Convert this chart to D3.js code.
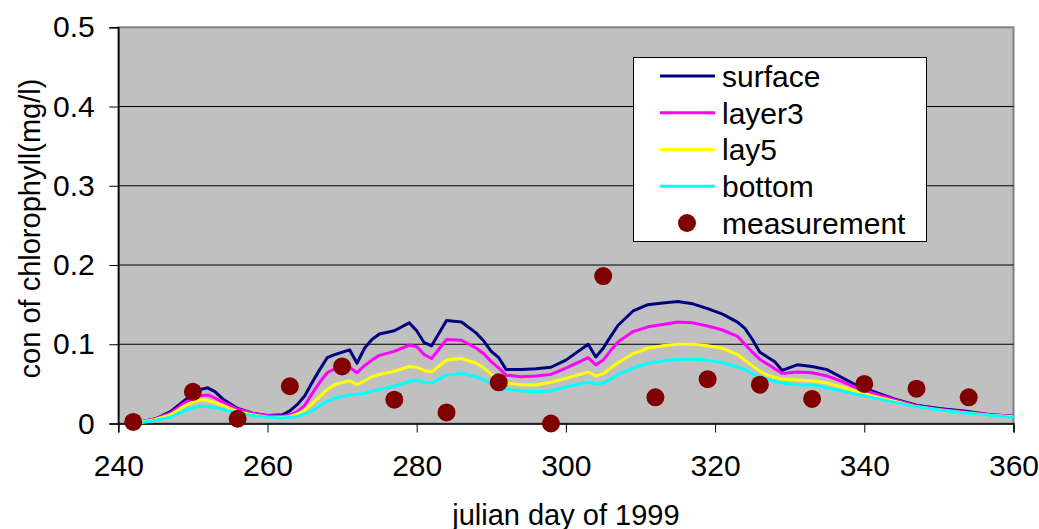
<!DOCTYPE html>
<html>
<head>
<meta charset="utf-8">
<script src="https://cdn.jsdelivr.net/npm/d3@7"></script>
<style>
  body { margin: 0; background: #fff; }
  text { font-family: "Liberation Sans", Arial, sans-serif; fill: #000; }
</style>
</head>
<body>
<script>
// model output, sampled at these julian days
var days = [243, 245, 247, 249, 251, 252, 253, 254, 256, 258, 260, 262, 263, 264, 265, 266, 267, 268, 269, 271,
            272, 273, 274, 275, 277, 279, 280, 281, 282, 284, 286, 288, 289, 290, 291, 292, 294, 296, 298, 300,
            303, 304, 305, 306, 307, 309, 311, 313, 315, 317, 319, 321, 323, 324, 325, 326, 327, 328, 329, 331,
            333, 335, 337, 339, 341, 344, 347, 350, 354, 357, 360];

var surface = [0.002, 0.006, 0.015, 0.030, 0.043, 0.045, 0.040, 0.031, 0.019, 0.013, 0.010, 0.011, 0.016, 0.024, 0.035, 0.052, 0.068, 0.083, 0.087, 0.093,
               0.076, 0.095, 0.106, 0.113, 0.117, 0.127, 0.117, 0.102, 0.098, 0.130, 0.128, 0.114, 0.104, 0.091, 0.083, 0.068, 0.068, 0.069, 0.071, 0.080,
               0.100, 0.084, 0.095, 0.110, 0.124, 0.142, 0.150, 0.152, 0.154, 0.151, 0.145, 0.138, 0.128, 0.120, 0.106, 0.090, 0.084, 0.078, 0.067, 0.074,
               0.072, 0.068, 0.058, 0.048, 0.041, 0.031, 0.023, 0.019, 0.015, 0.011, 0.009];

var layer3 = [0.002, 0.006, 0.013, 0.027, 0.035, 0.036, 0.032, 0.027, 0.018, 0.013, 0.010, 0.009, 0.011, 0.015, 0.023, 0.038, 0.052, 0.064, 0.069, 0.071,
              0.064, 0.073, 0.080, 0.086, 0.091, 0.099, 0.097, 0.087, 0.082, 0.106, 0.105, 0.095, 0.088, 0.078, 0.070, 0.061, 0.059, 0.060, 0.062, 0.070,
              0.083, 0.074, 0.080, 0.092, 0.103, 0.116, 0.122, 0.125, 0.128, 0.127, 0.123, 0.118, 0.110, 0.100, 0.090, 0.081, 0.075, 0.069, 0.063, 0.065,
              0.064, 0.060, 0.053, 0.045, 0.039, 0.030, 0.022, 0.018, 0.014, 0.011, 0.009];

var lay5 = [0.002, 0.005, 0.011, 0.023, 0.030, 0.029, 0.026, 0.023, 0.015, 0.011, 0.008, 0.008, 0.009, 0.012, 0.017, 0.025, 0.034, 0.043, 0.049, 0.054,
            0.049, 0.054, 0.059, 0.062, 0.066, 0.072, 0.071, 0.067, 0.065, 0.080, 0.082, 0.076, 0.070, 0.062, 0.055, 0.051, 0.049, 0.0485, 0.052, 0.057,
            0.065, 0.060, 0.063, 0.070, 0.077, 0.088, 0.095, 0.098, 0.100, 0.100, 0.098, 0.095, 0.087, 0.080, 0.073, 0.066, 0.061, 0.058, 0.056, 0.055,
            0.054, 0.051, 0.046, 0.040, 0.035, 0.028, 0.021, 0.017, 0.013, 0.010, 0.0085];

var bottom = [0.001, 0.004, 0.008, 0.017, 0.022, 0.021, 0.020, 0.018, 0.013, 0.010, 0.008, 0.007, 0.008, 0.009, 0.012, 0.016, 0.022, 0.028, 0.032, 0.036,
              0.037, 0.038, 0.041, 0.043, 0.047, 0.053, 0.055, 0.052, 0.051, 0.061, 0.063, 0.059, 0.055, 0.050, 0.046, 0.043, 0.041, 0.040, 0.041, 0.046,
              0.052, 0.050, 0.051, 0.056, 0.062, 0.070, 0.076, 0.079, 0.081, 0.081, 0.080, 0.077, 0.071, 0.068, 0.063, 0.059, 0.056, 0.053, 0.051, 0.049,
              0.0485, 0.045, 0.041, 0.037, 0.033, 0.027, 0.021, 0.017, 0.0125, 0.010, 0.008];

// field measurements
var measDays = [242, 250, 256, 263, 270, 277, 284, 291, 298, 305, 312, 319, 326, 333, 340, 347, 354];
var measVals = [0.002, 0.040, 0.006, 0.047, 0.072, 0.030, 0.014, 0.052, 0.000, 0.186, 0.033, 0.056, 0.049, 0.031, 0.050, 0.044, 0.033];

var seriesNames = ['surface', 'layer3', 'lay5', 'bottom'];
var seriesColors = ['#000080', '#ff00ff', '#ffff00', '#00ffff'];
var xTicks = [240, 260, 280, 300, 320, 340, 360];
var yTicks = [0, 0.1, 0.2, 0.3, 0.4, 0.5];

var width = 1039,
    height = 529;
var plotLeft = 118.3, plotRight = 1013.5, plotTop = 27.3, plotBottom = 423.5;

var svg = d3.select('body').append('svg')
    .attr('width', width)
    .attr('height', height);

var x = d3.scaleLinear().domain([240, 360]).range([plotLeft, plotRight]);
var y = d3.scaleLinear().domain([0, 0.5]).range([plotBottom, plotTop]);

// plot area
svg.append('rect')
    .attr('x', plotLeft).attr('y', plotTop)
    .attr('width', plotRight - plotLeft).attr('height', plotBottom - plotTop)
    .attr('fill', '#c0c0c0')
    .attr('stroke', '#808080')
    .attr('stroke-width', 2);

// gridlines
svg.append('g').selectAll('line')
    .data(yTicks.filter(function(d) { return d > 0 && d < 0.5; }))
    .enter().append('line')
    .attr('x1', plotLeft).attr('x2', plotRight)
    .attr('y1', function(d) { return y(d); })
    .attr('y2', function(d) { return y(d); })
    .attr('stroke', '#000')
    .attr('stroke-width', 1);

var yAxis = svg.append('g')
    .attr('transform', 'translate(' + plotLeft + ',0)')
    .call(d3.axisLeft(y).tickValues(yTicks).tickSize(9).tickPadding(14.5)
        .tickFormat(function(d) { return d === 0 ? '0' : d3.format('.1f')(d); }));

var xAxis = svg.append('g')
    .attr('transform', 'translate(0,' + plotBottom + ')')
    .call(d3.axisBottom(x).tickValues(xTicks).tickSize(9).tickPadding(22)
        .tickFormat(d3.format('d')));

[yAxis, xAxis].forEach(function(a) {
    a.selectAll('text').style('font-size', '30px').style('font-family', '"Liberation Sans", Arial, sans-serif');
    a.selectAll('line').attr('stroke', '#000');
    a.select('.domain').attr('stroke', '#000').attr('stroke-width', 1.5);
});

// model lines
var line = d3.line()
    .x(function(d) { return x(d[0]); })
    .y(function(d) { return y(d[1]); });

[surface, layer3, lay5, bottom].forEach(function(vals, i) {
    svg.append('path')
        .datum(days.map(function(d, j) { return [d, vals[j]]; }))
        .attr('d', line)
        .attr('fill', 'none')
        .attr('stroke', seriesColors[i])
        .attr('stroke-width', 3)
        .attr('stroke-linejoin', 'round');
});

// measurements
svg.append('g').selectAll('circle')
    .data(measDays.map(function(d, j) { return [d, measVals[j]]; }))
    .enter().append('circle')
    .attr('cx', function(d) { return x(d[0]); })
    .attr('cy', function(d) { return y(d[1]); })
    .attr('r', 9)
    .attr('fill', '#800000');

// legend
var legend = svg.append('g');
legend.append('rect')
    .attr('x', 633.5).attr('y', 57.5)
    .attr('width', 293).attr('height', 184)
    .attr('fill', '#fff')
    .attr('stroke', '#000')
    .attr('stroke-width', 1);

var legendItems = seriesNames.concat(['measurement']);
var ly = d3.scalePoint().domain(legendItems).range([76, 223]);

legendItems.forEach(function(name, i) {
    var g = legend.append('g').attr('transform', 'translate(0,' + ly(name) + ')');
    if (i < 4) {
        g.append('line')
            .attr('x1', 660).attr('x2', 715)
            .attr('stroke', seriesColors[i])
            .attr('stroke-width', 3);
    } else {
        g.append('circle').attr('cx', 687).attr('r', 9).attr('fill', '#800000');
    }
    g.append('text')
        .attr('x', 722)
        .attr('dy', '0.36em')
        .style('font-size', '30px')
        .text(name);
});

// axis titles
svg.append('text')
    .attr('x', (plotLeft + plotRight) / 2)
    .attr('y', 525)
    .attr('text-anchor', 'middle')
    .style('font-size', '29px')
    .text('julian day of 1999');

svg.append('text')
    .attr('transform', 'translate(40,228.5) rotate(-90)')
    .attr('text-anchor', 'middle')
    .style('font-size', '29px')
    .text('con of chlorophyll(mg/l)');
</script>
</body>
</html>
